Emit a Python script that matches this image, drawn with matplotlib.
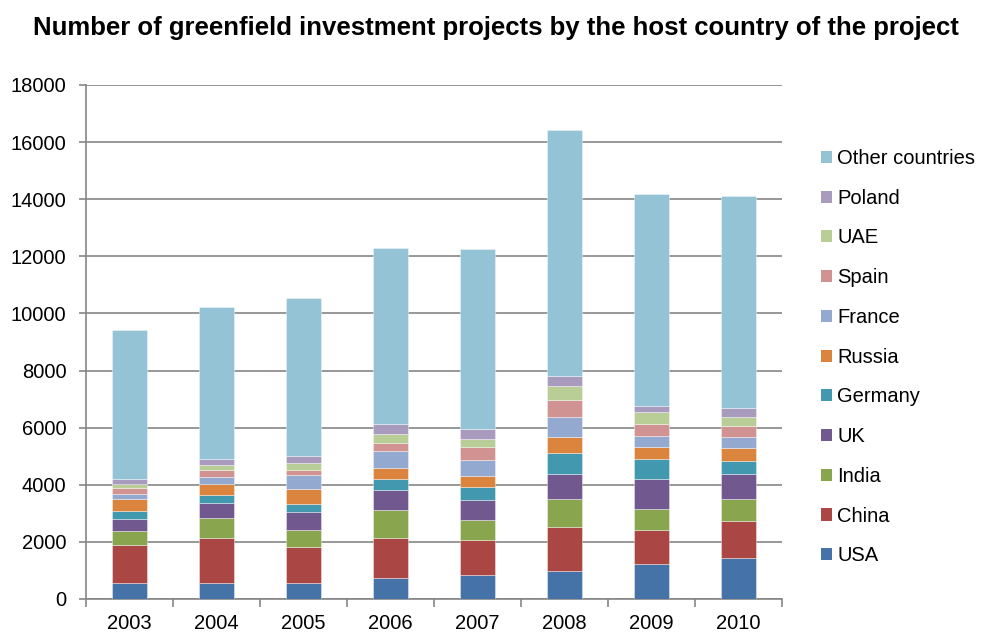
import matplotlib
matplotlib.use("Agg")
import matplotlib.pyplot as plt
import numpy as np
from matplotlib.patches import Patch

plt.rcParams['font.family'] = ['Liberation Sans', 'DejaVu Sans']

years = ["2003", "2004", "2005", "2006", "2007", "2008", "2009", "2010"]
series_names = ["USA", "China", "India", "UK", "Germany", "Russia",
                "France", "Spain", "UAE", "Poland", "Other countries"]

usa     = [575, 575, 550, 740, 845, 970, 1230, 1440]
china   = [1325, 1545, 1265, 1395, 1220, 1545, 1180, 1300]
india   = [470, 705, 610, 995, 715, 970, 740, 760]
uk      = [435, 540, 635, 690, 670, 890, 1065, 890]
germany = [270, 270, 280, 375, 455, 725, 700, 455]
russia  = [420, 400, 515, 400, 385, 575, 410, 460]
france  = [165, 220, 490, 600, 585, 705, 400, 375]
spain   = [235, 270, 175, 280, 445, 585, 410, 385]
uae     = [140, 165, 235, 315, 295, 490, 400, 305]
poland  = [150, 225, 260, 330, 340, 365, 235, 330]
other   = [5250, 5300, 5535, 6160, 6290, 8590, 7405, 7430]

series = [usa, china, india, uk, germany, russia, france, spain, uae, poland, other]
colors = ["#4572A7", "#AA4643", "#89A54E", "#71588F", "#4198AF", "#DB843D",
          "#93A9CF", "#D19392", "#B9CD96", "#A99BBD", "#93C3D4"]

fig = plt.figure(figsize=(9.86, 6.34), dpi=100)
ax = fig.add_axes([86/986, 1-599/634, (782-86)/986, (599-85)/634])

x = np.arange(len(years))
bottom = np.zeros(len(years))
for vals, c in zip(series, colors):
    ax.bar(x, vals, width=0.40, bottom=bottom, color=c,
           edgecolor=(1, 1, 1, 0.45), linewidth=0.6, zorder=3)
    bottom += np.array(vals)

gray = "#868686"
ax.set_xlim(-0.5, len(years)-0.5)
ax.set_ylim(0, 18000)
ax.set_yticks(np.arange(0, 18001, 2000))
ax.yaxis.grid(True, color=gray, linewidth=1.2, zorder=0)
ax.set_axisbelow(True)
for s in ["top", "right"]:
    ax.spines[s].set_visible(False)
for s in ["left", "bottom"]:
    ax.spines[s].set_color(gray)
    ax.spines[s].set_linewidth(1.2)

ax.set_xticks(x)
ax.set_xticklabels(years)
ax.set_xticks(np.arange(-0.5, len(years), 1.0), minor=True)
ax.tick_params(axis='x', which='major', length=0, pad=11, labelsize=14.5)
ax.tick_params(axis='x', which='minor', length=6, color=gray, width=1.2)
ax.tick_params(axis='y', which='major', length=5, color=gray, width=1.2,
               labelsize=14.5, pad=9)

fig.text(0.503, 1-28/634, "Number of greenfield investment projects by the host country of the project",
         ha='center', va='center', fontsize=18.5, fontweight='bold')

handles = [Patch(facecolor=c, edgecolor='none', label=n)
           for n, c in zip(series_names, colors)][::-1]
fig.legend(handles=handles, loc='upper left',
           bbox_to_anchor=(821/986, 1-149/634), frameon=False,
           fontsize=14.5, handlelength=0.55, handleheight=0.55,
           handletextpad=0.25, labelspacing=1.03, borderaxespad=0,
           borderpad=0)

fig.savefig("out.png", dpi=100)
